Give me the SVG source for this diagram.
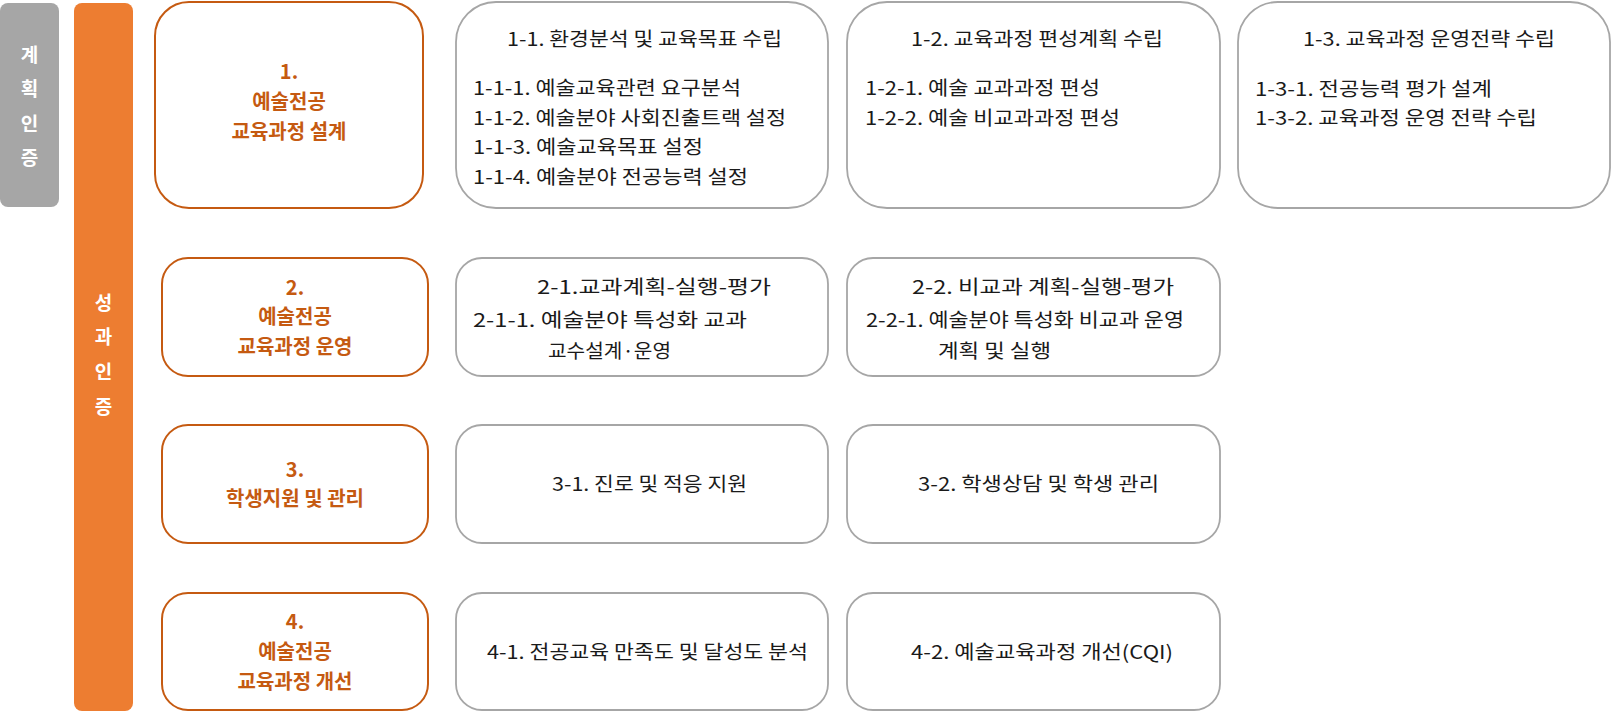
<svg xmlns="http://www.w3.org/2000/svg" width="1612" height="712" viewBox="0 0 1612 712">
<style>
text{font-family:"Noto Sans CJK KR","Noto Sans",sans-serif;}
.bar-t{font-size:19px;font-weight:700;fill:#ffffff;text-anchor:middle;}
.main{fill:#ffffff;stroke:#c55a11;stroke-width:2;}
.main-t{font-size:20px;font-weight:700;fill:#c55a11;text-anchor:middle;}
.sub{fill:#ffffff;stroke:#a6a6a6;stroke-width:1.8;}
.sub-t{font-size:19px;font-weight:400;fill:#1a1a1a;}
</style>
<rect width="1612" height="712" fill="#ffffff"/>
<g id="bar-plan">
<rect x="0" y="3" width="59" height="204" rx="8" fill="#a6a6a6"/>
<text class="bar-t" x="29.5" y="62">계</text>
<text class="bar-t" x="29.5" y="96">획</text>
<text class="bar-t" x="29.5" y="131">인</text>
<text class="bar-t" x="29.5" y="165">증</text>
</g>
<g id="bar-result">
<rect x="74" y="3" width="59" height="708" rx="8" fill="#ed7d31"/>
<text class="bar-t" x="103.5" y="310">성</text>
<text class="bar-t" x="103.5" y="344">과</text>
<text class="bar-t" x="103.5" y="379">인</text>
<text class="bar-t" x="103.5" y="414">증</text>
</g>
<g id="connectors"/>
<g id="node-1">
<rect class="main" x="155" y="2" width="268" height="206" rx="34"/>
<text class="main-t" x="289" y="79">1.</text>
<text class="main-t" x="289" y="109">예술전공</text>
<text class="main-t" x="289" y="139">교육과정 설계</text>
</g>
<g id="node-2">
<rect class="main" x="162" y="258" width="266" height="118" rx="26"/>
<text class="main-t" x="295" y="295">2.</text>
<text class="main-t" x="295" y="324">예술전공</text>
<text class="main-t" x="295" y="354">교육과정 운영</text>
</g>
<g id="node-3">
<rect class="main" x="162" y="425" width="266" height="118" rx="26"/>
<text class="main-t" x="295" y="477">3.</text>
<text class="main-t" x="295" y="506">학생지원 및 관리</text>
</g>
<g id="node-4">
<rect class="main" x="162" y="593" width="266" height="117" rx="26"/>
<text class="main-t" x="295" y="629">4.</text>
<text class="main-t" x="295" y="659">예술전공</text>
<text class="main-t" x="295" y="689">교육과정 개선</text>
</g>
<g id="node-1-1">
<rect class="sub" x="456" y="2" width="372" height="206" rx="40"/>
<text class="sub-t" x="507" y="46" textLength="275" lengthAdjust="spacingAndGlyphs">1-1. 환경분석 및 교육목표 수립</text>
<text class="sub-t" x="473" y="95" textLength="268" lengthAdjust="spacingAndGlyphs">1-1-1. 예술교육관련 요구분석</text>
<text class="sub-t" x="473" y="125" textLength="313" lengthAdjust="spacingAndGlyphs">1-1-2. 예술분야 사회진출트랙 설정</text>
<text class="sub-t" x="473" y="154" textLength="230" lengthAdjust="spacingAndGlyphs">1-1-3. 예술교육목표 설정</text>
<text class="sub-t" x="473" y="184" textLength="275" lengthAdjust="spacingAndGlyphs">1-1-4. 예술분야 전공능력 설정</text>
</g>
<g id="node-1-2">
<rect class="sub" x="847" y="2" width="373" height="206" rx="40"/>
<text class="sub-t" x="911" y="46" textLength="252" lengthAdjust="spacingAndGlyphs">1-2. 교육과정 편성계획 수립</text>
<text class="sub-t" x="865" y="95" textLength="235" lengthAdjust="spacingAndGlyphs">1-2-1. 예술 교과과정 편성</text>
<text class="sub-t" x="865" y="125" textLength="255" lengthAdjust="spacingAndGlyphs">1-2-2. 예술 비교과과정 편성</text>
</g>
<g id="node-1-3">
<rect class="sub" x="1238" y="2" width="372" height="206" rx="40"/>
<text class="sub-t" x="1303" y="46" textLength="252" lengthAdjust="spacingAndGlyphs">1-3. 교육과정 운영전략 수립</text>
<text class="sub-t" x="1255" y="96" textLength="237" lengthAdjust="spacingAndGlyphs">1-3-1. 전공능력 평가 설계</text>
<text class="sub-t" x="1255" y="125" textLength="282" lengthAdjust="spacingAndGlyphs">1-3-2. 교육과정 운영 전략 수립</text>
</g>
<g id="node-2-1">
<rect class="sub" x="456" y="258" width="372" height="118" rx="26"/>
<text class="sub-t" x="537" y="294" textLength="234" lengthAdjust="spacingAndGlyphs">2-1.교과계획-실행-평가</text>
<text class="sub-t" x="473" y="327" textLength="274" lengthAdjust="spacingAndGlyphs">2-1-1. 예술분야 특성화 교과</text>
<text class="sub-t" x="548" y="358" textLength="123" lengthAdjust="spacingAndGlyphs">교수설계·운영</text>
</g>
<g id="node-2-2">
<rect class="sub" x="847" y="258" width="373" height="118" rx="26"/>
<text class="sub-t" x="912" y="294" textLength="262" lengthAdjust="spacingAndGlyphs">2-2. 비교과 계획-실행-평가</text>
<text class="sub-t" x="866" y="327" textLength="318" lengthAdjust="spacingAndGlyphs">2-2-1. 예술분야 특성화 비교과 운영</text>
<text class="sub-t" x="938" y="358" textLength="113" lengthAdjust="spacingAndGlyphs">계획 및 실행</text>
</g>
<g id="node-3-1">
<rect class="sub" x="456" y="425" width="372" height="118" rx="26"/>
<text class="sub-t" x="552" y="491" textLength="195" lengthAdjust="spacingAndGlyphs">3-1. 진로 및 적응 지원</text>
</g>
<g id="node-3-2">
<rect class="sub" x="847" y="425" width="373" height="118" rx="26"/>
<text class="sub-t" x="918" y="491" textLength="241" lengthAdjust="spacingAndGlyphs">3-2. 학생상담 및 학생 관리</text>
</g>
<g id="node-4-1">
<rect class="sub" x="456" y="593" width="372" height="117" rx="26"/>
<text class="sub-t" x="487" y="659" textLength="321" lengthAdjust="spacingAndGlyphs">4-1. 전공교육 만족도 및 달성도 분석</text>
</g>
<g id="node-4-2">
<rect class="sub" x="847" y="593" width="373" height="117" rx="26"/>
<text class="sub-t" x="911" y="659" textLength="262" lengthAdjust="spacingAndGlyphs">4-2. 예술교육과정 개선(CQI)</text>
</g>
</svg>
